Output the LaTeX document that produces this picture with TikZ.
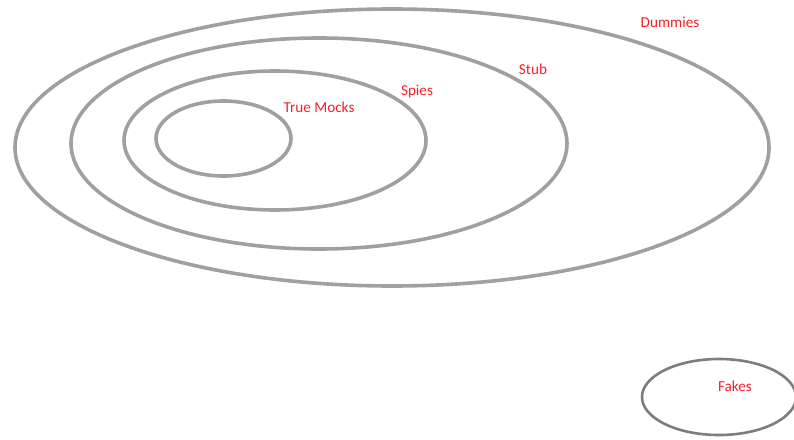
\documentclass[tikz,border=0pt]{standalone}
\usepackage{fontspec}
\setmainfont{Carlito}
\usetikzlibrary{shapes.geometric,positioning}
\definecolor{kontur}{RGB}{160,160,160}
\definecolor{kontursot}{RGB}{125,125,125}
\definecolor{felirat}{RGB}{250,30,40}
\tikzset{
  kor/.style={ellipse,draw=kontur,line width=3.6pt,inner sep=0pt},
  cimke/.style={text=felirat,font=\fontsize{15.2}{17}\selectfont,inner sep=0pt},
}
\begin{document}
\begin{tikzpicture}[x=1pt,y=-1pt]
  \useasboundingbox (0,0) rectangle (794,439);
  \node[kor,minimum width=754pt,minimum height=277pt] (dummy) at (392,147.5) {};
  \node[kor,minimum width=496pt,minimum height=211pt] (stub) at (319,143.5) {};
  \node[kor,minimum width=302pt,minimum height=139pt] (spy) at (275,140.5) {};
  \node[kor,minimum width=135pt,minimum height=75pt] (mock) at (223.5,138.5) {};
  \node[kor,draw=kontursot,line width=2.6pt,minimum width=154pt,minimum height=76pt] (fake) at (719,397) {};
  % feliratok
  \node[cimke] (ldummy) at (670,22) {Dummies};
  \node[cimke] (lstub) at (533,69) {Stub};
  \node[cimke] (lspy) at (417,91) {Spies};
  \node[cimke] (lmock) at (319,107.5) {True Mocks};
  \node[cimke] (lfake) at (735,386) {Fakes};
\end{tikzpicture}
\end{document}
